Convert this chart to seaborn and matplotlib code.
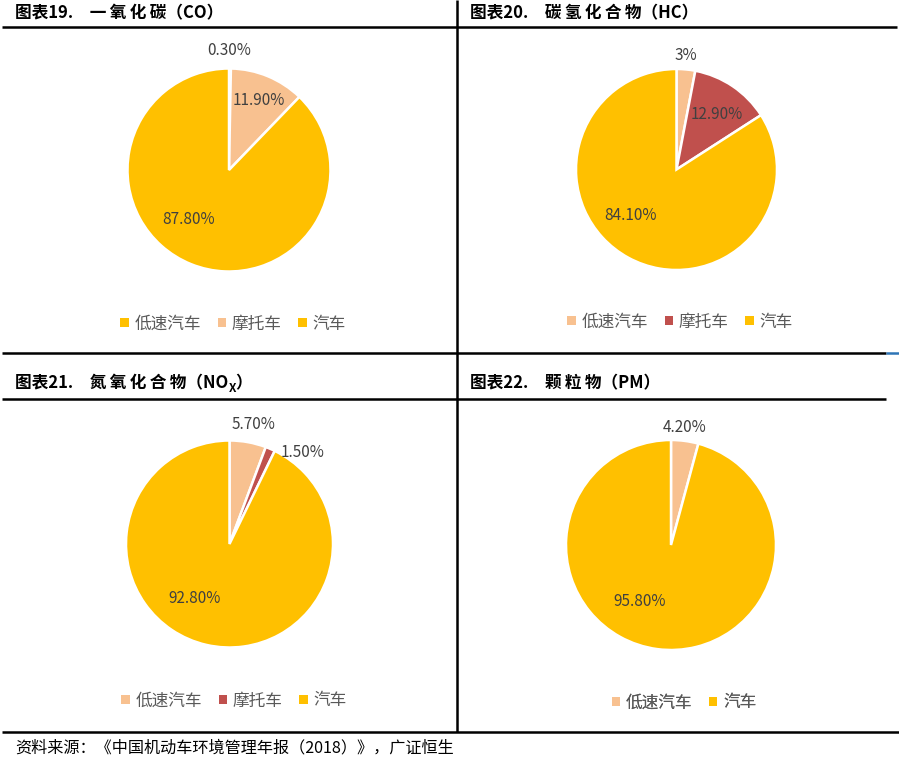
import matplotlib
matplotlib.use("Agg")
import matplotlib.pyplot as plt
from matplotlib.patches import Patch
import seaborn as sns

# ---------------- data ----------------
categories_3 = ["低速汽车", "摩托车", "汽车"]
categories_2 = ["低速汽车", "汽车"]

co_values = [0.30, 11.90, 87.80]
hc_values = [3.0, 12.90, 84.10]
nox_values = [5.70, 1.50, 92.80]
pm_values = [4.20, 95.80]

co_labels = ["0.30%", "11.90%", "87.80%"]
hc_labels = ["3%", "12.90%", "84.10%"]
nox_labels = ["5.70%", "1.50%", "92.80%"]
pm_labels = ["4.20%", "95.80%"]

TS = "\u2009"  # thin space for character tracking
titles = ["图表19.\u3000" + TS.join("一氧化碳") + "（CO）",
          "图表20.\u3000" + TS.join("碳氢化合物") + "（HC）",
          "图表21.\u3000" + TS.join("氮氧化合物") + "（NO",
          "图表22.\u3000" + TS.join("颗粒物") + "（PM）"]
source_text = "资料来源：《中国机动车环境管理年报（2018）》，广证恒生"

# ---------------- style ----------------
sns.set_theme(style="white")
plt.rcParams["font.family"] = ["Noto Sans CJK SC", "DejaVu Sans"]

YELLOW = "#FFC000"
PEACH = "#F8C190"
RED = "#C0504D"
co_colors = [YELLOW, PEACH, YELLOW]
hc_colors = [PEACH, RED, YELLOW]
nox_colors = [PEACH, RED, YELLOW]
pm_colors = [PEACH, YELLOW]

W, H = 899, 761
fig = plt.figure(figsize=(W / 100, H / 100), dpi=100)
fig.patch.set_facecolor("white")

ax0 = fig.add_axes([0, 0, 1, 1])
ax0.set_xlim(0, W)
ax0.set_ylim(H, 0)
ax0.axis("off")

LW = 1.8
def hline(y, x0, x1, color="black"):
    ax0.plot([x0, x1], [y, y], color=color, lw=LW, solid_capstyle="butt")

def vline(x, y0, y1):
    ax0.plot([x, x], [y0, y1], color="black", lw=LW, solid_capstyle="butt")

hline(27, 2, 897)
vline(457, 0, 732)
hline(353, 2, 886)
hline(353, 886, 899, color="#2E75B6")
hline(398.5, 2, 886)
hline(732, 2, 899)

title_kw = dict(fontsize=12, fontweight="bold", color="black", va="center", ha="left")
ax0.text(15, 13, titles[0], **title_kw)
ax0.text(470, 13, titles[1], **title_kw)
t3 = ax0.text(15, 383, titles[2], **title_kw)
ax0.text(470, 383, titles[3], **title_kw)

ax0.text(15, 748, source_text, fontsize=11.6, color="black", va="center", ha="left")

# subscript X for NOx
fig.canvas.draw()
renderer = fig.canvas.get_renderer()
bb = t3.get_window_extent(renderer=renderer)
x_end = ax0.transData.inverted().transform((bb.x1, bb.y0))[0]
sx = ax0.text(x_end + 0.5, 388, "X", fontsize=8.5, fontweight="bold", color="black",
              va="center", ha="left")
fig.canvas.draw()
bb2 = sx.get_window_extent(renderer=renderer)
x_end2 = ax0.transData.inverted().transform((bb2.x1, bb2.y0))[0]
ax0.text(x_end2 - 1, 383, "）", **title_kw)

# ---------------- pies ----------------
HB = 140  # half box in pixels

def draw_pie(cx, cy, R, values, colors, labels, label_pos, cats, legend_xy):
    ax = fig.add_axes([(cx - HB) / W, 1 - (cy + HB) / H, 2 * HB / W, 2 * HB / H])
    lim = HB / R
    ax.pie(values, colors=colors, startangle=90, counterclock=False, radius=1,
           wedgeprops=dict(edgecolor="white", linewidth=1.8))
    ax.set_xlim(-lim, lim)
    ax.set_ylim(-lim, lim)
    ax.set_aspect("equal")
    ax.axis("off")
    for lab, (lx, ly) in zip(labels, label_pos):
        ax.text(lx, ly, lab, fontsize=11, color="#404040", ha="center", va="center")
    handles = [Patch(facecolor=c, edgecolor="none") for c in colors]
    leg = ax0.legend(handles, cats, loc="center", bbox_to_anchor=legend_xy,
                     bbox_transform=ax0.transData, ncol=len(cats), frameon=False,
                     handlelength=0.5, handleheight=0.5, handletextpad=0.35,
                     columnspacing=1.0, fontsize=12, borderaxespad=0)
    for t in leg.get_texts():
        t.set_color("#595959")
    ax0.add_artist(leg)

draw_pie(229, 170, 101.5, co_values, co_colors, co_labels,
         [(0.0, 1.18), (0.29, 0.68), (-0.40, -0.49)], categories_3, (233, 324))
draw_pie(676.5, 169.5, 100.5, hc_values, hc_colors, hc_labels,
         [(0.09, 1.13), (0.40, 0.55), (-0.46, -0.46)], categories_3, (680, 322))
draw_pie(229.5, 544, 103.5, nox_values, nox_colors, nox_labels,
         [(0.23, 1.15), (0.71, 0.88), (-0.34, -0.53)], categories_3, (234, 701))
draw_pie(671, 545, 105, pm_values, pm_colors, pm_labels,
         [(0.13, 1.12), (-0.30, -0.54)], categories_2, (684, 703))

fig.savefig("out.png", dpi=100, facecolor="white")
